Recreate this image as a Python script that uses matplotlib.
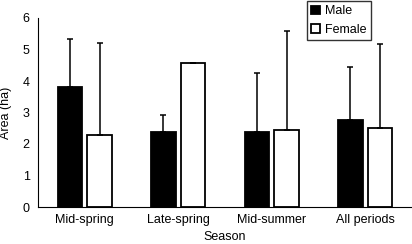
import numpy as np
import matplotlib.pyplot as plt

plt.rcParams['font.family'] = ['Liberation Sans', 'DejaVu Sans']

seasons = ["Mid-spring", "Late-spring", "Mid-summer", "All periods"]
male = np.array([3.8, 2.38, 2.38, 2.75])
male_err = np.array([1.53, 0.54, 1.87, 1.69])
female = np.array([2.3, 4.58, 2.43, 2.52])
female_err = np.array([2.9, 0.0, 3.16, 2.65])

x = np.arange(len(seasons))
w = 0.26

fig = plt.figure(figsize=(4.12, 2.44), dpi=100)
ax = fig.add_axes([38 / 412, 37 / 244, 374 / 412, 189 / 244])

ax.bar(x - 0.158, male, w, color="black", edgecolor="black", linewidth=1.3,
       yerr=[np.zeros(4), male_err], error_kw=dict(ecolor="black", elinewidth=1.1, capsize=2.5, capthick=1.1),
       label="Male")
ax.bar(x + 0.158, female, w, color="white", edgecolor="black", linewidth=1.3,
       yerr=[np.zeros(4), female_err], error_kw=dict(ecolor="black", elinewidth=1.1, capsize=2.5, capthick=1.1),
       label="Female")

ax.set_xlim(-0.5, 3.5)
ax.set_ylim(0, 6)
ax.set_xticks(x)
ax.set_xticklabels(seasons, fontsize=9)
ax.set_yticks(range(7))
ax.tick_params(axis="y", labelsize=9, length=0, pad=6)
ax.tick_params(axis="x", length=0, pad=5)
ax.spines["top"].set_visible(False)
ax.spines["right"].set_visible(False)
ax.set_xlabel("Season", fontsize=9, labelpad=4)
ax.set_ylabel("Area (ha)", fontsize=9, labelpad=8)

leg = ax.legend(loc="upper left", bbox_to_anchor=(269 / 374, 1.09), fontsize=9,
                frameon=True, fancybox=False, edgecolor="black", handlelength=0.7,
                handleheight=0.7, handletextpad=0.4, borderpad=0.35, labelspacing=0.5,
                borderaxespad=0)
leg.get_frame().set_linewidth(1.0)

fig.savefig("out.png", dpi=100)
